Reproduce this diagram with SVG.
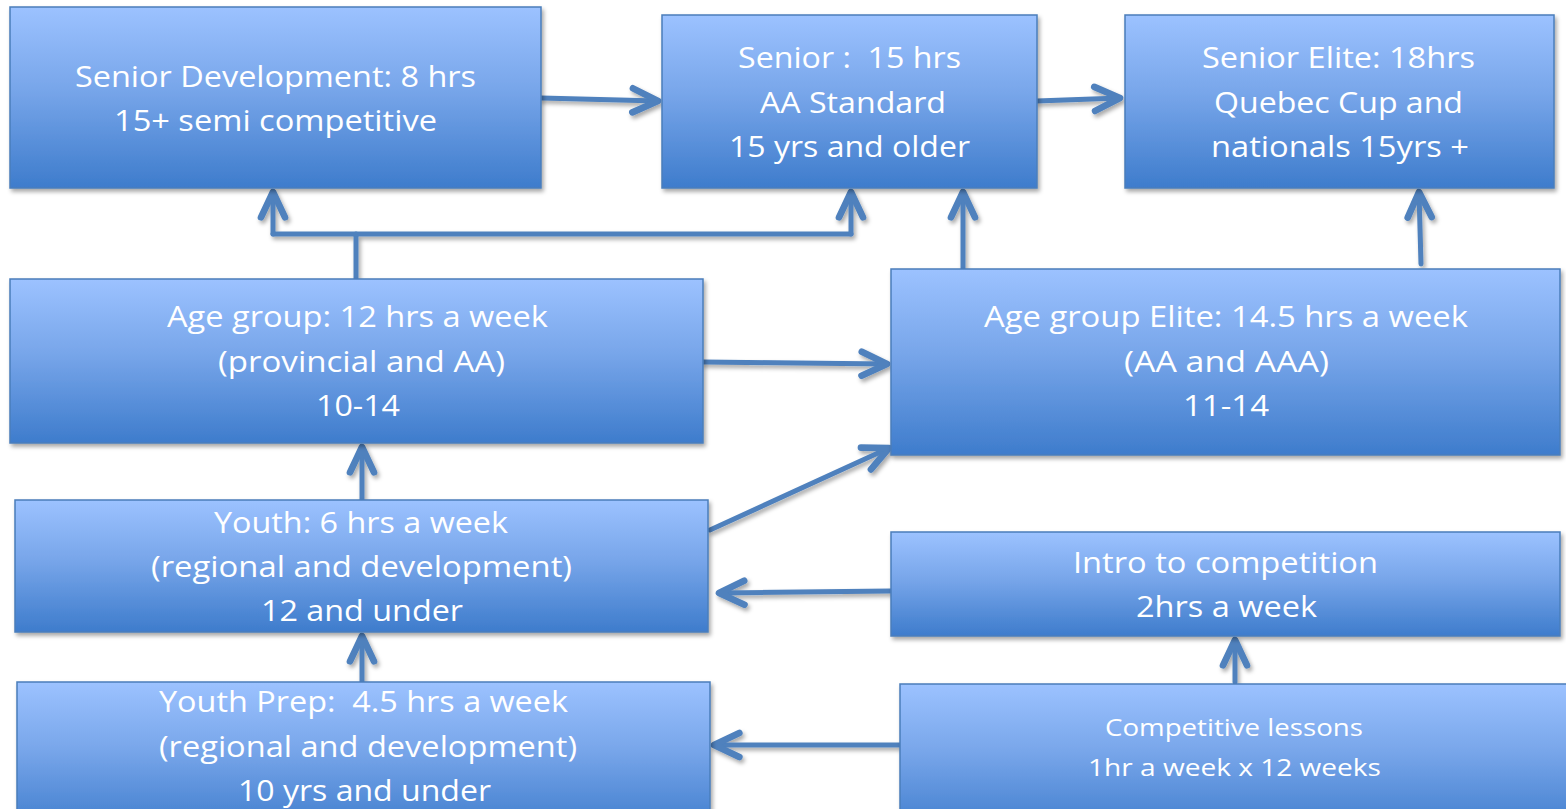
<svg xmlns="http://www.w3.org/2000/svg" width="1566" height="809" viewBox="0 0 1566 809">
<defs>
<linearGradient id="g" x1="0" y1="0" x2="0" y2="1">
<stop offset="0" stop-color="#9cc2ff"/>
<stop offset="0.45" stop-color="#78a6ea"/>
<stop offset="1" stop-color="#3e7ccc"/>
</linearGradient>
<filter id="sh" filterUnits="userSpaceOnUse" x="0" y="0" width="1566" height="850">
<feDropShadow dx="2" dy="3" stdDeviation="2" flood-color="#000" flood-opacity="0.35"/>
</filter>
<marker id="ah" markerUnits="userSpaceOnUse" markerWidth="40" markerHeight="40" refX="0" refY="0" viewBox="-25 -15 30 30" orient="auto" overflow="visible">
<path d="M-19,-9 L0,0 L-19,9" fill="none" stroke="#4f81bd" stroke-width="5" stroke-linecap="round" stroke-linejoin="round"/>
</marker>
<style>
.box{fill:url(#g);stroke:#4a7ebb;stroke-width:1.5;filter:url(#sh)}
.t{font-family:"Open Sans","Liberation Sans",sans-serif;font-size:29px;fill:#fff;text-anchor:middle;white-space:pre}
.s{font-size:23px}
.c{fill:none;stroke:#4f81bd;stroke-width:5;stroke-linecap:round;stroke-linejoin:round}
#connectors{filter:url(#sh)}
</style>
</defs>
<g id="connectors">
<path class="c" d="M541,98 L658,101" marker-end="url(#ah)"/>
<path class="c" d="M1037,101 L1120,98" marker-end="url(#ah)"/>
<path class="c" d="M356,279 L356,234"/>
<path class="c" d="M273,234 L851,234"/>
<path class="c" d="M273,234 L273,192" marker-end="url(#ah)"/>
<path class="c" d="M851,234 L851,192" marker-end="url(#ah)"/>
<path class="c" d="M963,269 L963,192" marker-end="url(#ah)"/>
<path class="c" d="M1421,264 L1419,192" marker-end="url(#ah)"/>
<path class="c" d="M703,362 L887,364" marker-end="url(#ah)"/>
<path class="c" d="M710,530 L889,448" marker-end="url(#ah)"/>
<path class="c" d="M362,500 L362,447" marker-end="url(#ah)"/>
<path class="c" d="M891,591 L719,593" marker-end="url(#ah)"/>
<path class="c" d="M362,682 L362,636" marker-end="url(#ah)"/>
<path class="c" d="M900,745 L714,745" marker-end="url(#ah)"/>
<path class="c" d="M1235,682 L1235,640" marker-end="url(#ah)"/>
</g>
<g id="senior-development">
<rect class="box" x="10" y="7" width="531" height="181"/>
<text class="t" x="275.5" y="87" textLength="401" lengthAdjust="spacingAndGlyphs">Senior Development: 8 hrs</text>
<text class="t" x="275.5" y="131" textLength="323" lengthAdjust="spacingAndGlyphs">15+ semi competitive</text>
</g>
<g id="senior">
<rect class="box" x="662" y="15" width="375" height="173"/>
<text class="t" x="849.5" y="68" textLength="223" lengthAdjust="spacingAndGlyphs">Senior :  15 hrs</text>
<text class="t" x="853" y="113" textLength="186" lengthAdjust="spacingAndGlyphs">AA Standard</text>
<text class="t" x="849.5" y="157" textLength="241" lengthAdjust="spacingAndGlyphs">15 yrs and older</text>
</g>
<g id="senior-elite">
<rect class="box" x="1125" y="15" width="429" height="173"/>
<text class="t" x="1338.5" y="68" textLength="273" lengthAdjust="spacingAndGlyphs">Senior Elite: 18hrs</text>
<text class="t" x="1338.5" y="113" textLength="249" lengthAdjust="spacingAndGlyphs">Quebec Cup and</text>
<text class="t" x="1340" y="157" textLength="258" lengthAdjust="spacingAndGlyphs">nationals 15yrs +</text>
</g>
<g id="age-group">
<rect class="box" x="10" y="279" width="693" height="164"/>
<text class="t" x="357.5" y="327" textLength="381" lengthAdjust="spacingAndGlyphs">Age group: 12 hrs a week</text>
<text class="t" x="361.5" y="372" textLength="287" lengthAdjust="spacingAndGlyphs">(provincial and AA)</text>
<text class="t" x="358" y="416" textLength="84" lengthAdjust="spacingAndGlyphs">10-14</text>
</g>
<g id="age-group-elite">
<rect class="box" x="891" y="269" width="669" height="186"/>
<text class="t" x="1226" y="327" textLength="484" lengthAdjust="spacingAndGlyphs">Age group Elite: 14.5 hrs a week</text>
<text class="t" x="1226.5" y="372" textLength="205" lengthAdjust="spacingAndGlyphs">(AA and AAA)</text>
<text class="t" x="1226" y="416" textLength="86" lengthAdjust="spacingAndGlyphs">11-14</text>
</g>
<g id="youth">
<rect class="box" x="15" y="500" width="693" height="132"/>
<text class="t" x="361" y="533" textLength="294" lengthAdjust="spacingAndGlyphs">Youth: 6 hrs a week</text>
<text class="t" x="361.5" y="577" textLength="421" lengthAdjust="spacingAndGlyphs">(regional and development)</text>
<text class="t" x="362" y="621" textLength="202" lengthAdjust="spacingAndGlyphs">12 and under</text>
</g>
<g id="intro-to-competition">
<rect class="box" x="891" y="532" width="669" height="104"/>
<text class="t" x="1225.5" y="573" textLength="305" lengthAdjust="spacingAndGlyphs">Intro to competition</text>
<text class="t" x="1226.5" y="617" textLength="181" lengthAdjust="spacingAndGlyphs">2hrs a week</text>
</g>
<g id="youth-prep">
<rect class="box" x="17" y="682" width="693" height="150"/>
<text class="t" x="363.5" y="712" textLength="409" lengthAdjust="spacingAndGlyphs">Youth Prep:  4.5 hrs a week</text>
<text class="t" x="368" y="757" textLength="418" lengthAdjust="spacingAndGlyphs">(regional and development)</text>
<text class="t" x="364.5" y="801" textLength="253" lengthAdjust="spacingAndGlyphs">10 yrs and under</text>
</g>
<g id="competitive-lessons">
<rect class="box" x="900" y="684" width="680" height="150"/>
<text class="t s" x="1234" y="736" textLength="258" lengthAdjust="spacingAndGlyphs">Competitive lessons</text>
<text class="t s" x="1234.5" y="776" textLength="293" lengthAdjust="spacingAndGlyphs">1hr a week x 12 weeks</text>
</g>
</svg>
